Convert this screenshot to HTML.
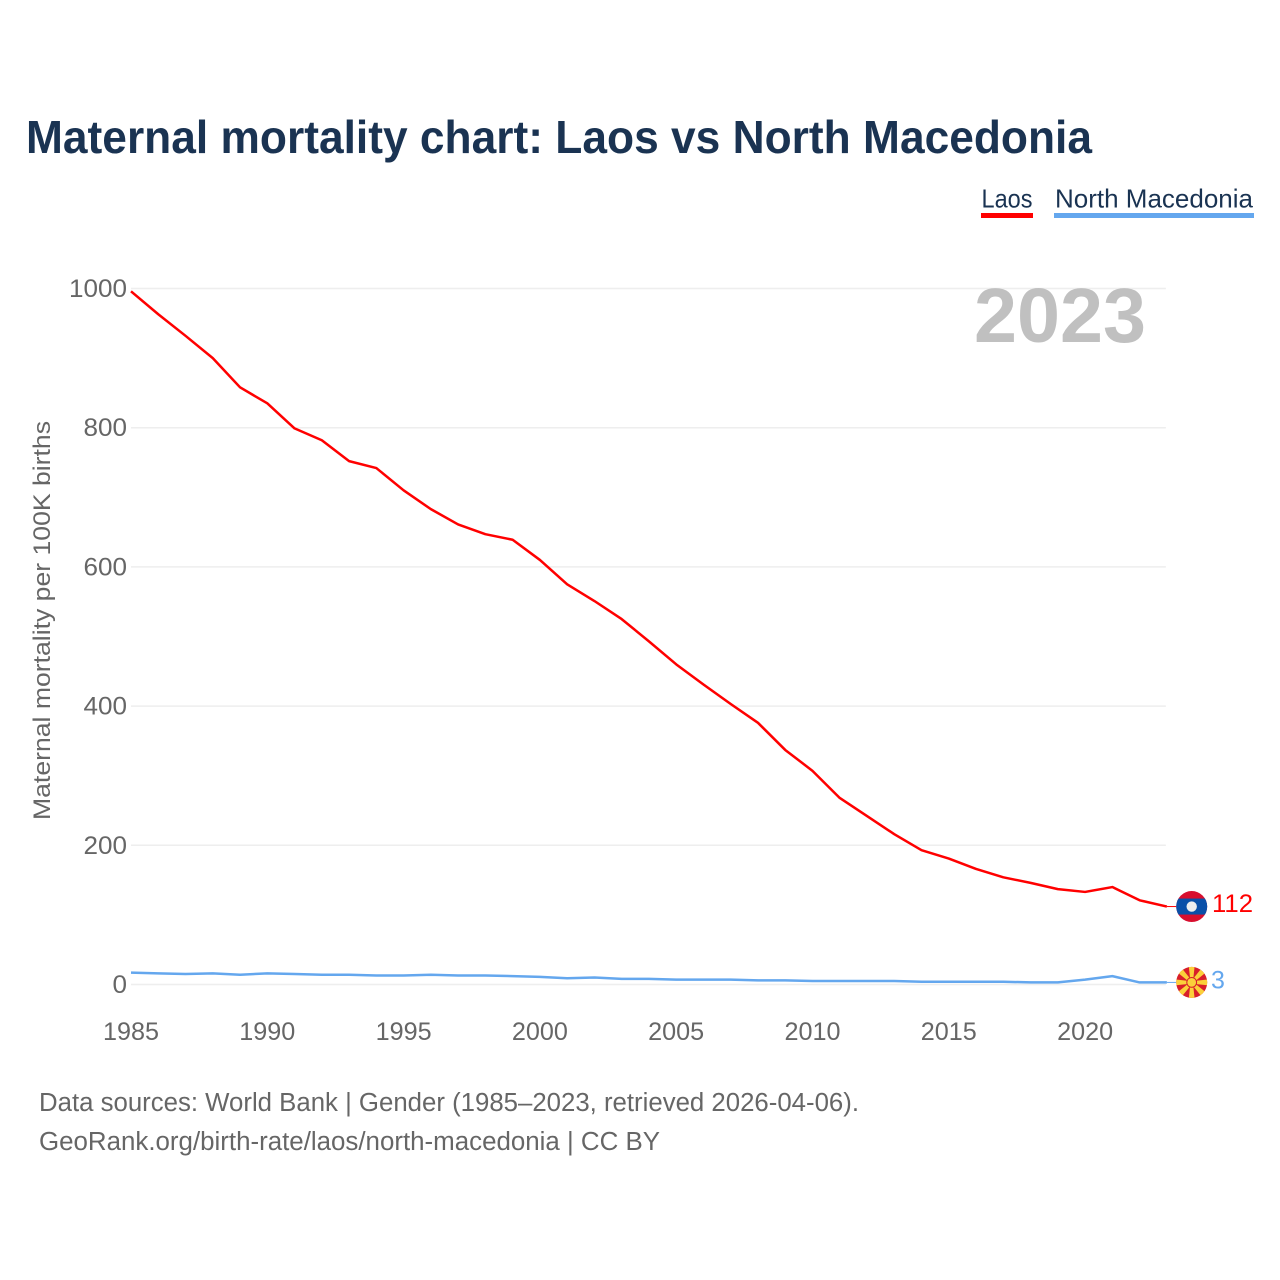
<!DOCTYPE html>
<html lang="en">
<head>
<meta charset="utf-8">
<title>Maternal mortality chart: Laos vs North Macedonia</title>
<style>
html,body{margin:0;padding:0;background:#fff;width:1280px;height:1280px;overflow:hidden}
svg{display:block}
text{font-family:"Liberation Sans",sans-serif}
</style>
</head>
<body>
<svg id="chart" xmlns="http://www.w3.org/2000/svg" width="1280" height="1280" viewBox="0 0 1280 1280">
  <defs>
    <clipPath id="flag-clip"><circle cx="0" cy="0" r="15.5"/></clipPath>
    <polygon id="flag-ray" points="-1.2,0 1.2,0 2.9,-16 -2.9,-16" fill="#fbd03a"/>
  </defs>
  <rect x="0" y="0" width="1280" height="1280" fill="#fff"/>
  <text x="26" y="153" font-size="46" font-weight="700" fill="#1a3352" textLength="1066" lengthAdjust="spacingAndGlyphs">Maternal mortality chart: Laos vs North Macedonia</text>

  <g>
    <text x="981.5" y="207.5" font-size="26" fill="#1a3352" textLength="51" lengthAdjust="spacingAndGlyphs">Laos</text>
    <rect x="981" y="213" width="52" height="5" fill="#ff0000"/>
  </g>
  <g>
    <text x="1055" y="207.5" font-size="26" fill="#1a3352" textLength="198" lengthAdjust="spacingAndGlyphs">North Macedonia</text>
    <rect x="1054" y="213" width="200" height="5" fill="#64a7ee"/>
  </g>

  <g id="grid"></g>
  <text x="974" y="342" font-size="77" font-weight="700" fill="#c0c0c0" textLength="172" lengthAdjust="spacingAndGlyphs">2023</text>
  <g id="y-axis"></g>
  <g id="x-axis"></g>
  <text transform="translate(50,820) rotate(-90)" x="0" y="0" font-size="24" fill="#666666" textLength="399" lengthAdjust="spacingAndGlyphs">Maternal mortality per 100K births</text>

  <g id="series"></g>

  <g id="flag-laos">
    <g clip-path="url(#flag-clip)">
      <rect x="-16" y="-16" width="32" height="32" fill="#d80e2e"/>
      <rect x="-16" y="-8" width="32" height="16" fill="#0a50a8"/>
      <circle cx="0" cy="0" r="5.2" fill="#eeeeee"/>
    </g>
  </g>
  <g id="flag-mk">
    <g clip-path="url(#flag-clip)">
      <rect x="-16" y="-16" width="32" height="32" fill="#d81e2a"/>
      <use href="#flag-ray"/>
      <use href="#flag-ray" transform="rotate(45)"/>
      <use href="#flag-ray" transform="rotate(90)"/>
      <use href="#flag-ray" transform="rotate(135)"/>
      <use href="#flag-ray" transform="rotate(180)"/>
      <use href="#flag-ray" transform="rotate(225)"/>
      <use href="#flag-ray" transform="rotate(270)"/>
      <use href="#flag-ray" transform="rotate(315)"/>
      <circle cx="0" cy="0" r="5.4" fill="#d81e2a"/>
      <circle cx="0" cy="0" r="4.4" fill="#fbd03a"/>
    </g>
  </g>
  <text id="value-laos" x="1212" font-size="25" fill="#ff0000" textLength="41" lengthAdjust="spacingAndGlyphs">112</text>
  <text id="value-mk" x="1211" font-size="25" fill="#64a7ee">3</text>

  <text x="39" y="1111" font-size="25.5" fill="#666666" textLength="820" lengthAdjust="spacingAndGlyphs">Data sources: World Bank | Gender (1985–2023, retrieved 2026-04-06).</text>
  <text x="39" y="1150" font-size="25.5" fill="#666666" textLength="621" lengthAdjust="spacingAndGlyphs">GeoRank.org/birth-rate/laos/north-macedonia | CC BY</text>
</svg>
<script>
const years = [1985,1986,1987,1988,1989,1990,1991,1992,1993,1994,1995,1996,1997,1998,1999,2000,2001,2002,2003,2004,2005,2006,2007,2008,2009,2010,2011,2012,2013,2014,2015,2016,2017,2018,2019,2020,2021,2022,2023];
const laosValues = [996,963,932,900,858,835,799,782,752,742,710,683,661,647,639,610,575,551,525,493,460,431,403,376,337,307,268,242,216,193,181,166,154,146,137,133,140,121,112];
const macedoniaValues = [17,16,15,16,14,16,15,14,14,13,13,14,13,13,12,11,9,10,8,8,7,7,7,6,6,5,5,5,5,4,4,4,4,3,3,7,12,3,3];
const yTickValues = [0,200,400,600,800,1000];
const xTickValues = [1985,1990,1995,2000,2005,2010,2015,2020];

const SVG_NS = 'http://www.w3.org/2000/svg';
const X0 = 131, X_PER_YEAR = 27.26, Y0 = 984.5, Y_PER_UNIT = 0.696;
const xScale = function (year) { return X0 + (year - 1985) * X_PER_YEAR; };
const yScale = function (value) { return Y0 - value * Y_PER_UNIT; };
const plotRight = xScale(years[years.length - 1]);

const gridGroup = document.getElementById('grid');
const yAxisGroup = document.getElementById('y-axis');
const xAxisGroup = document.getElementById('x-axis');
const seriesGroup = document.getElementById('series');

yTickValues.forEach(function (v) {
  const line = document.createElementNS(SVG_NS, 'line');
  
  
  line.setAttribute('x1', X0);
  line.setAttribute('x2', plotRight - 1);
  line.setAttribute('y1', yScale(v));
  line.setAttribute('y2', yScale(v));
  line.setAttribute('stroke', '#eeeeee');
  line.setAttribute('stroke-width', '1.5');
  gridGroup.appendChild(line);

  const label = document.createElementNS(SVG_NS, 'text');
  
  
  label.setAttribute('x', 127);
  label.setAttribute('y', yScale(v) + 8.5);
  label.setAttribute('text-anchor', 'end');
  label.setAttribute('font-size', '25');
  label.setAttribute('fill', '#666666');
  label.setAttribute('textLength', String(v).length * 14.5);
  label.setAttribute('lengthAdjust', 'spacingAndGlyphs');
  label.textContent = v;
  yAxisGroup.appendChild(label);
});

xTickValues.forEach(function (t) {
  const label = document.createElementNS(SVG_NS, 'text');
  
  
  label.setAttribute('x', xScale(t));
  label.setAttribute('y', 1040);
  label.setAttribute('text-anchor', 'middle');
  label.setAttribute('font-size', '25');
  label.setAttribute('fill', '#666666');
  label.setAttribute('textLength', '56');
  label.setAttribute('lengthAdjust', 'spacingAndGlyphs');
  label.textContent = t;
  xAxisGroup.appendChild(label);
});

function seriesPoints(values) {
  return values.map(function (v, i) { return xScale(years[i]) + ',' + yScale(v); }).join(' ');
}

const laosLine = document.createElementNS(SVG_NS, 'polyline');


laosLine.setAttribute('points', seriesPoints(laosValues));
laosLine.setAttribute('fill', 'none');
laosLine.setAttribute('stroke', '#ff0000');
laosLine.setAttribute('stroke-width', '2.5');
laosLine.setAttribute('stroke-linejoin', 'round');
seriesGroup.appendChild(laosLine);

const macedoniaLine = document.createElementNS(SVG_NS, 'polyline');


macedoniaLine.setAttribute('points', seriesPoints(macedoniaValues));
macedoniaLine.setAttribute('fill', 'none');
macedoniaLine.setAttribute('stroke', '#64a7ee');
macedoniaLine.setAttribute('stroke-width', '2.5');
macedoniaLine.setAttribute('stroke-linejoin', 'round');
seriesGroup.appendChild(macedoniaLine);

const laosLast = yScale(laosValues[laosValues.length - 1]);
const macedoniaLast = yScale(macedoniaValues[macedoniaValues.length - 1]);

const laosLeader = document.createElementNS(SVG_NS, 'line');


laosLeader.setAttribute('x1', plotRight);
laosLeader.setAttribute('x2', 1176);
laosLeader.setAttribute('y1', laosLast);
laosLeader.setAttribute('y2', laosLast);
laosLeader.setAttribute('stroke', '#ff0000');
laosLeader.setAttribute('stroke-width', '1');
seriesGroup.appendChild(laosLeader);

const macedoniaLeader = document.createElementNS(SVG_NS, 'line');


macedoniaLeader.setAttribute('x1', plotRight);
macedoniaLeader.setAttribute('x2', 1176);
macedoniaLeader.setAttribute('y1', macedoniaLast);
macedoniaLeader.setAttribute('y2', macedoniaLast);
macedoniaLeader.setAttribute('stroke', '#64a7ee');
macedoniaLeader.setAttribute('stroke-width', '1');
seriesGroup.appendChild(macedoniaLeader);

document.getElementById('flag-laos').setAttribute('transform', 'translate(1191.7,' + laosLast + ')');
document.getElementById('flag-mk').setAttribute('transform', 'translate(1191.7,' + macedoniaLast + ')');
const laosValueLabel = document.getElementById('value-laos');
laosValueLabel.setAttribute('y', laosLast + 5.5);
laosValueLabel.textContent = laosValues[laosValues.length - 1];
const macedoniaValueLabel = document.getElementById('value-mk');
macedoniaValueLabel.setAttribute('y', macedoniaLast + 6);
macedoniaValueLabel.textContent = macedoniaValues[macedoniaValues.length - 1];
</script>
</body>
</html>
